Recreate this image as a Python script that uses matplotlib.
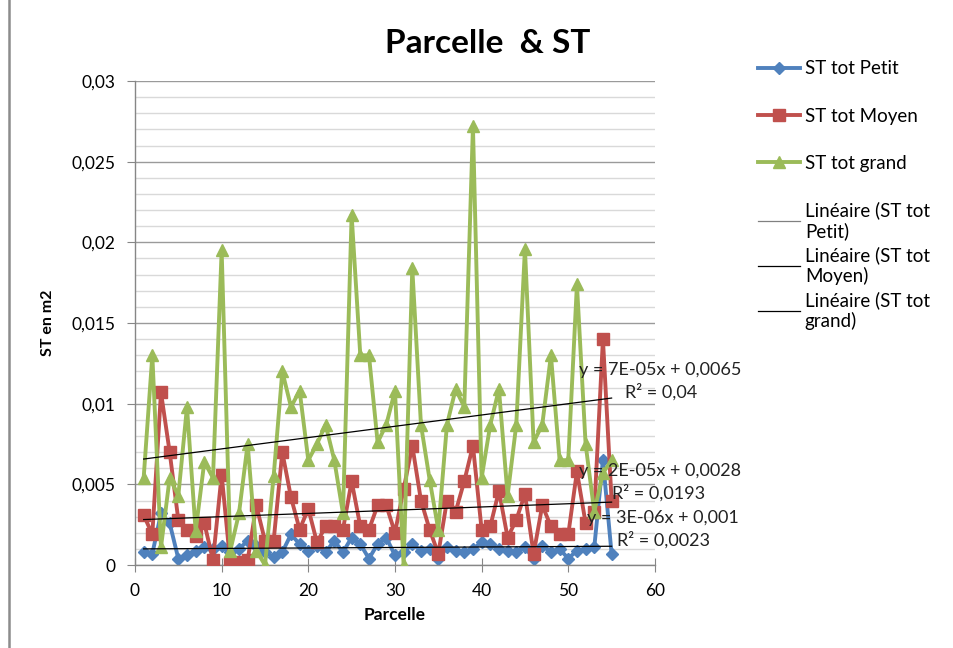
import numpy as np
import matplotlib
matplotlib.use("Agg")
import matplotlib.pyplot as plt
from matplotlib.lines import Line2D

plt.rcParams['font.family'] = ['Lato', 'DejaVu Sans']

parcelle = list(range(1, 56))

st_petit = [0.0008, 0.0007, 0.0032, 0.0026, 0.0004, 0.0006, 0.0009, 0.0011, 0.0010, 0.0012,
            0.0008, 0.0010, 0.0015, 0.0012, 0.0008, 0.0005, 0.0008, 0.0019, 0.0013, 0.0009,
            0.0012, 0.0008, 0.0015, 0.0008, 0.0017, 0.0013, 0.0004, 0.0013, 0.0017, 0.0006,
            0.0008, 0.0013, 0.0009, 0.0010, 0.0004, 0.0011, 0.0009, 0.0008, 0.0010, 0.0014,
            0.0013, 0.0010, 0.0009, 0.0008, 0.0011, 0.0004, 0.0012, 0.0008, 0.0010, 0.0004,
            0.0009, 0.0010, 0.0011, 0.0065, 0.0007]

st_moyen = [0.0031, 0.0019, 0.0107, 0.0070, 0.0028, 0.0022, 0.0018, 0.0026, 0.0003, 0.0056,
            0.0001, 0.0002, 0.0003, 0.0037, 0.0015, 0.0015, 0.0070, 0.0042, 0.0022, 0.0035,
            0.0014, 0.0024, 0.0024, 0.0022, 0.0052, 0.0024, 0.0022, 0.0037, 0.0037, 0.0020,
            0.0047, 0.0074, 0.0040, 0.0022, 0.0007, 0.0040, 0.0033, 0.0052, 0.0074, 0.0022,
            0.0024, 0.0046, 0.0017, 0.0028, 0.0044, 0.0007, 0.0037, 0.0024, 0.0019, 0.0019,
            0.0058, 0.0026, 0.0033, 0.0140, 0.0040]

st_grand = [0.0054, 0.0130, 0.0011, 0.0054, 0.0043, 0.0098, 0.0021, 0.0064, 0.0054, 0.0195,
            0.0009, 0.0032, 0.0075, 0.0009, 0.0000, 0.0055, 0.0120, 0.0098, 0.0108, 0.0065,
            0.0075, 0.0087, 0.0065, 0.0032, 0.0217, 0.0130, 0.0130, 0.0076, 0.0087, 0.0108,
            0.0000, 0.0184, 0.0087, 0.0053, 0.0022, 0.0087, 0.0109, 0.0098, 0.0272, 0.0054,
            0.0087, 0.0109, 0.0043, 0.0087, 0.0196, 0.0076, 0.0087, 0.0130, 0.0065, 0.0065,
            0.0174, 0.0075, 0.0033, 0.0057, 0.0065]

series_names = ["ST tot Petit", "ST tot Moyen", "ST tot grand"]
trend_names = ["Linéaire (ST tot\nPetit)", "Linéaire (ST tot\nMoyen)", "Linéaire (ST tot\ngrand)"]
# trend coefficients as displayed (slope, intercept)
trend_slope = [3e-06, 2e-05, 7e-05]
trend_intercept = [0.001, 0.0028, 0.0065]
trend_eq = ["y = 3E-06x + 0,001", "y = 2E-05x + 0,0028", "y = 7E-05x + 0,0065"]
trend_r2 = ["R² = 0,0023", "R² = 0,0193", "R² = 0,04"]

x_ticks = [0, 10, 20, 30, 40, 50, 60]
y_ticks = [0, 0.005, 0.01, 0.015, 0.02, 0.025, 0.03]
y_ticklabels = ["0", "0,005", "0,01", "0,015", "0,02", "0,025", "0,03"]

colors = ["#4F81BD", "#C0504D", "#9BBB59"]
markers = ["D", "s", "^"]
msizes = [6.5, 8, 9]

fig = plt.figure(figsize=(9.54, 6.48), dpi=100)
ax = fig.add_axes([0.1415, 0.128, 0.545, 0.747])

x = np.array(parcelle)
data = [st_petit, st_moyen, st_grand]
handles = []
for i, (d, c, m, ms) in enumerate(zip(data, colors, markers, msizes)):
    h, = ax.plot(x, d, color=c, marker=m, markersize=ms, linewidth=2.8,
                 markeredgecolor=c, zorder=2 + i, label=series_names[i])
    handles.append(h)

trend_handles = []
for i in range(3):
    xt = np.array([parcelle[0], parcelle[-1]])
    yt = trend_slope[i] * xt + trend_intercept[i]
    h, = ax.plot(xt, yt, color="black", linewidth=0.9, zorder=6, label=trend_names[i])
    trend_handles.append(h)

# trend equations
eq_pos = [(52.2, 0.00291, 55.6, 0.00155), (51.2, 0.00583, 55.1, 0.00446), (51.2, 0.01209, 56.6, 0.01072)]
for i in range(3):
    ex, ey, rx, ry = eq_pos[i]
    ax.text(ex, ey, trend_eq[i], fontsize=13, va="center", ha="left", color="#222222", zorder=7)
    ax.text(rx, ry, trend_r2[i], fontsize=13, va="center", ha="left", color="#222222", zorder=7)

ax.set_xlim(0, 60)
ax.set_ylim(0, 0.03)
ax.set_xticks(x_ticks)
ax.set_xticklabels([str(t) for t in x_ticks])
ax.set_yticks(y_ticks)
ax.set_yticklabels(y_ticklabels)
ax.set_yticks(np.arange(0, 0.0301, 0.001), minor=True)
ax.tick_params(axis="y", which="minor", length=0)
ax.tick_params(axis="y", which="major", direction="out", length=6, color="#868686", labelsize=12.5, pad=8)
ax.tick_params(axis="x", which="major", direction="inout", length=10, color="#868686", labelsize=12.5, pad=8)

ax.grid(axis="y", which="minor", color="#d9d9d9", linewidth=1.0)
ax.grid(axis="y", which="major", color="#9a9a9a", linewidth=1.0)
ax.set_axisbelow(True)
for s in ["top", "right"]:
    ax.spines[s].set_visible(False)
for s in ["left", "bottom"]:
    ax.spines[s].set_color("#868686")
    ax.spines[s].set_linewidth(1.0)

ax.set_xlabel("Parcelle", fontsize=12.5, fontweight="bold", labelpad=6)
ax.set_ylabel("ST en m2", fontsize=11.5, fontweight="bold", labelpad=12)

fig.text(0.511, 0.933, "Parcelle  & ST", fontsize=24, fontweight="bold", ha="center", va="center")

leg1 = fig.legend(handles=handles, loc="upper left", bbox_to_anchor=(0.7945, 0.907),
                  frameon=False, fontsize=13.5, handlelength=2.25, handletextpad=0.25,
                  labelspacing=1.62, borderaxespad=0, borderpad=0)
leg2 = fig.legend(handles=trend_handles, loc="upper left", bbox_to_anchor=(0.7945, 0.690),
                  frameon=False, fontsize=13.5, handlelength=2.25, handletextpad=0.25,
                  labelspacing=0.34, borderaxespad=0, borderpad=0)
leg2.legend_handles[0].set_color("#808080")

# left frame line of the chart area
fig.add_artist(Line2D([0.0095, 0.0095], [0, 1], transform=fig.transFigure, color="#8c8c8c", linewidth=1.8))

fig.savefig("out.png", dpi=100)
